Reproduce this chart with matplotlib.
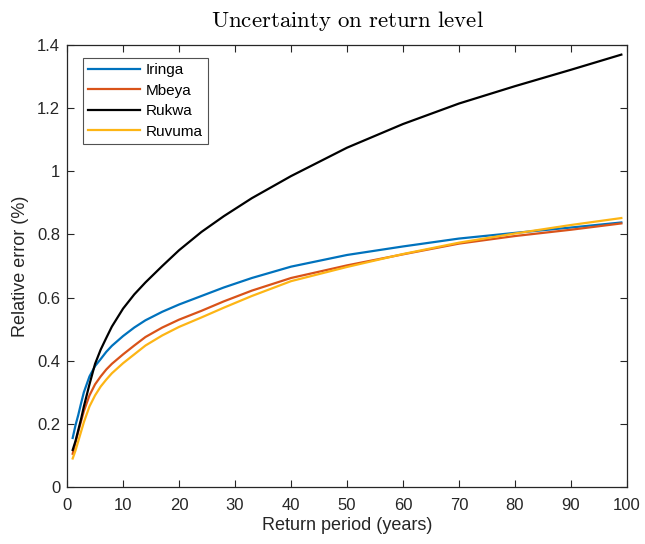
import matplotlib
matplotlib.use("Agg")
import matplotlib.pyplot as plt

plt.rcParams["font.family"] = ["Liberation Sans", "DejaVu Sans"]
plt.rcParams["mathtext.fontset"] = "cm"

# return period (years) at which each curve was sampled
period = [1, 1.5, 2, 2.5, 3, 4, 5, 6, 7, 8, 10, 12, 14, 17, 20, 24, 28, 33,
          40, 50, 60, 70, 80, 90, 99]

iringa = [0.155, 0.195, 0.228, 0.265, 0.30, 0.35, 0.383, 0.405, 0.428, 0.447,
          0.478, 0.505, 0.528, 0.555, 0.578, 0.605, 0.632, 0.662, 0.698, 0.735,
          0.762, 0.787, 0.805, 0.822, 0.838]
mbeya = [0.105, 0.14, 0.175, 0.208, 0.24, 0.29, 0.325, 0.35, 0.372, 0.39,
         0.42, 0.448, 0.475, 0.505, 0.53, 0.558, 0.588, 0.622, 0.662, 0.702,
         0.737, 0.771, 0.795, 0.815, 0.835]
rukwa = [0.117, 0.145, 0.18, 0.215, 0.255, 0.325, 0.39, 0.435, 0.472, 0.508,
         0.565, 0.61, 0.648, 0.70, 0.75, 0.808, 0.858, 0.915, 0.985, 1.075,
         1.15, 1.215, 1.27, 1.322, 1.37]
ruvuma = [0.09, 0.115, 0.145, 0.175, 0.205, 0.255, 0.29, 0.318, 0.34, 0.36,
          0.392, 0.42, 0.448, 0.48, 0.507, 0.537, 0.568, 0.605, 0.652, 0.697,
          0.738, 0.774, 0.803, 0.83, 0.852]

regions = ["Iringa", "Mbeya", "Rukwa", "Ruvuma"]
colors = ["#0072BD", "#D95319", "#000000", "#FDB515"]

fig = plt.figure(figsize=(6.45, 5.44), dpi=100)
ax = fig.add_axes([0.104, 0.105, 0.868, 0.812])

for name, vals, c in zip(regions, [iringa, mbeya, rukwa, ruvuma], colors):
    ax.plot(period, vals, color=c, lw=1.6, label=name)

ax.set_xlim(0, 100)
ax.set_ylim(0, 1.4)
ax.set_xticks(range(0, 101, 10))
ax.set_yticks([0, 0.2, 0.4, 0.6, 0.8, 1.0, 1.2, 1.4])
ax.set_yticklabels(["0", "0.2", "0.4", "0.6", "0.8", "1", "1.2", "1.4"])
ax.tick_params(direction="in", top=True, right=True, length=5, width=0.8,
               labelsize=12, colors="#262626")
ax.tick_params(axis="x", pad=8)
ax.tick_params(axis="y", pad=5)
for s in ax.spines.values():
    s.set_color("#262626")
    s.set_linewidth(0.9)

ax.set_xlabel("Return period (years)", fontsize=13, color="#262626", labelpad=3)
ax.set_ylabel("Relative error (%)", fontsize=13, color="#262626", labelpad=6)
ax.set_title(r"$\mathrm{Uncertainty\ on\ return\ level}$", fontsize=16.5, pad=13)

leg = ax.legend(loc="upper left", bbox_to_anchor=(0.0286, 0.971), fontsize=11,
                handlelength=3.4, frameon=True, fancybox=False, borderaxespad=0,
                borderpad=0.35, labelspacing=0.42, handletextpad=0.35)
leg.get_frame().set_edgecolor("#262626")
leg.get_frame().set_linewidth(0.8)

fig.savefig("out.png", dpi=100, facecolor="white")
